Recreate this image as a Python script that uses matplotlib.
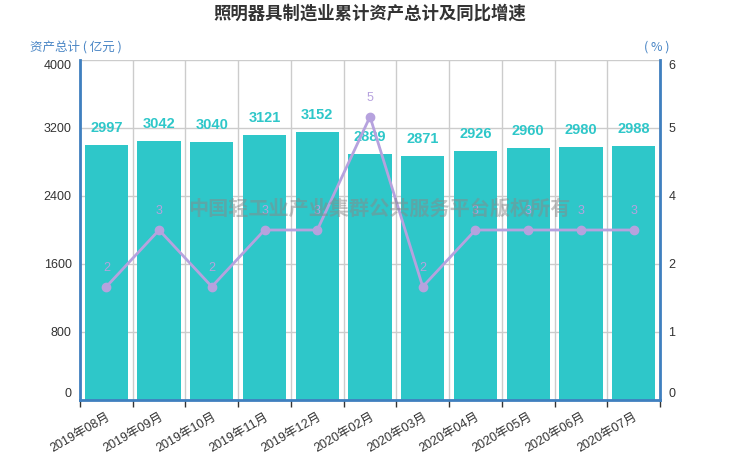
import matplotlib
matplotlib.use("Agg")
import matplotlib.pyplot as plt
import numpy as np

plt.rcParams['font.family'] = ['Liberation Sans', 'Noto Sans CJK SC', 'DejaVu Sans']

categories = ['2019年08月', '2019年09月', '2019年10月', '2019年11月', '2019年12月',
              '2020年02月', '2020年03月', '2020年04月', '2020年05月', '2020年06月', '2020年07月']
assets = [2997, 3042, 3040, 3121, 3152, 2889, 2871, 2926, 2960, 2980, 2988]
growth = [2, 3, 2, 3, 3, 5, 2, 3, 3, 3, 3]
left_ticks = [0, 800, 1600, 2400, 3200, 4000]
right_ticks = [0, 1.2, 2.4, 3.6, 4.8, 6]
right_labels = ['0', '1', '2', '4', '5', '6']

bar_color = '#2ec7c9'
line_color = '#b6a2de'
axis_blue = '#3f7fbf'

fig = plt.figure(figsize=(7.40, 4.62), dpi=100)
ax = fig.add_axes([80/740, 62/462, 580/740, 340/462])
x = np.arange(len(categories))

ax.set_xlim(-0.5, len(categories) - 0.5)
ax.set_ylim(0, 4000)
ax.set_yticks(left_ticks)
ax.set_yticklabels([str(t) for t in left_ticks])
ax.grid(False)
for t in left_ticks[1:]:
    ax.axhline(t, color='#cccccc', lw=1, zorder=0)
for b in np.arange(-0.5, len(categories) + 0.5, 1.0):
    ax.axvline(b, color='#cccccc', lw=1, zorder=0)

bars = ax.bar(x, assets, width=0.82, color=bar_color, zorder=2)
for xi, v in zip(x, assets):
    ax.annotate(str(v), (xi, v), xytext=(0, 17), textcoords='offset pixels',
                ha='center', va='center', color=bar_color, fontsize=10.5, fontweight='bold', zorder=5)

ax.set_xticks(x)
ax.set_xticklabels(categories, rotation=30, ha='right', rotation_mode='anchor', fontsize=9, color='#333333')
ax.tick_params(axis='x', which='major', length=0, pad=8)
ax.set_xticks(np.arange(-0.5, len(categories) + 0.5, 1.0), minor=True)
ax.tick_params(axis='x', which='minor', length=5, color='#333333', width=1)
ax.tick_params(axis='y', length=0, labelsize=9, labelcolor='#333333', pad=6)

ax.spines['top'].set_visible(False)
ax.spines['left'].set_color(axis_blue)
ax.spines['left'].set_linewidth(2)
ax.spines['bottom'].set_color(axis_blue)
ax.spines['bottom'].set_linewidth(2)
ax.spines['right'].set_visible(False)

ax2 = ax.twinx()
ax2.set_ylim(0, 6)
ax2.set_yticks(right_ticks)
ax2.set_yticklabels(right_labels)
ax2.tick_params(axis='y', length=0, labelsize=9, labelcolor='#333333', pad=6)
for s in ['top', 'left', 'bottom']:
    ax2.spines[s].set_visible(False)
ax2.spines['right'].set_color(axis_blue)
ax2.spines['right'].set_linewidth(2)
ax2.plot(x, growth, color=line_color, lw=2, marker='o', markersize=6, zorder=4)
for xi, v in zip(x, growth):
    ax2.annotate(str(v), (xi, v), xytext=(0, 19), textcoords='offset pixels',
                 ha='center', va='center', color=line_color, fontsize=9, zorder=5)

# end labels slightly inside, as in the reference
for a in (ax, ax2):
    labs = a.get_yticklabels()
    labs[0].set_va('bottom')
    labs[-1].set_va('top')

ax2.text(0.517, 0.565, '中国轻工业产业集群公共服务平台版权所有', transform=ax2.transAxes,
         ha='center', va='center', fontsize=14.5, fontweight='bold', color='#888888', alpha=0.5,
         family=['Noto Sans CJK SC'], zorder=6)

fig.text(0.5, 1 - 14/462, '照明器具制造业累计资产总计及同比增速', ha='center', va='center',
         fontsize=12.5, fontweight='bold', color='#333333', family=['Noto Sans CJK SC'])
fig.text(30/740, 1 - 47/462, '资产总计 ( 亿元 )', ha='left', va='center', fontsize=9,
         color='#4a86c5', family=['Noto Sans CJK SC'])
fig.text(670/740, 1 - 47/462, '( % )', ha='right', va='center', fontsize=9,
         color='#4a86c5', family=['Noto Sans CJK SC'])

fig.savefig('out.png', dpi=100)
